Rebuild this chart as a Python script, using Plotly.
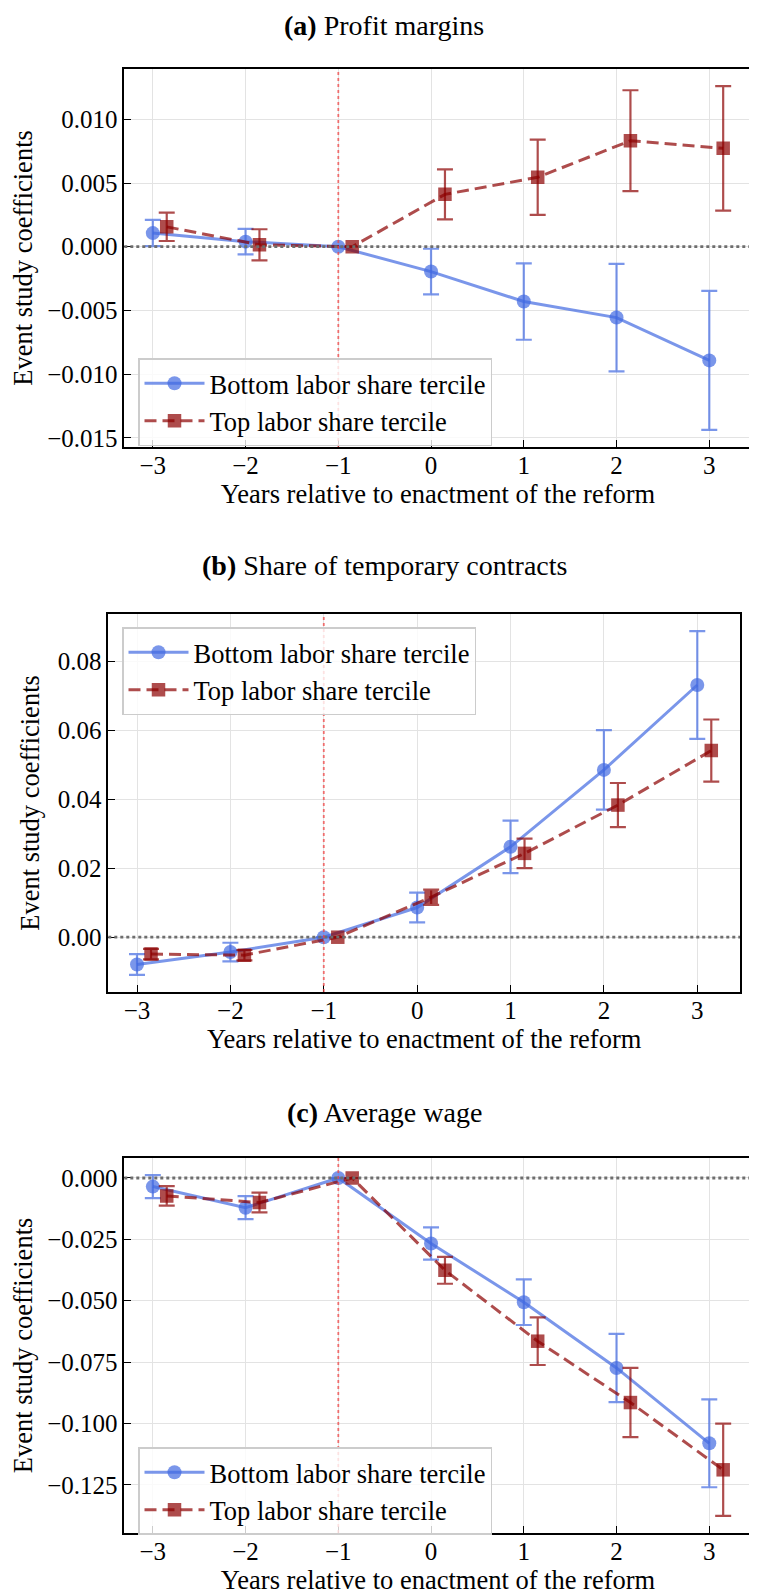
import plotly.graph_objects as go

# ---------------- data ----------------
years = [-3, -2, -1, 0, 1, 2, 3]
offset_top = 0.15

a_bottom_coef = [0.00107, 0.00040, 0.0, -0.00195, -0.00430, -0.00556, -0.00892]
a_bottom_err = [0.00103, 0.00100, 0.0, 0.00179, 0.00300, 0.00422, 0.00545]
a_top_coef = [0.00156, 0.00015, 0.0, 0.00411, 0.00545, 0.00832, 0.00772]
a_top_err = [0.00111, 0.00122, 0.0, 0.00196, 0.00295, 0.00396, 0.00488]

b_bottom_coef = [-0.0079, -0.0043, 0.0, 0.0086, 0.0262, 0.0485, 0.0731]
b_bottom_err = [0.0030, 0.0027, 0.0, 0.0043, 0.0076, 0.0115, 0.0156]
b_top_coef = [-0.0049, -0.0052, 0.0, 0.0116, 0.0243, 0.0383, 0.0541]
b_top_err = [0.0015, 0.0015, 0.0, 0.0022, 0.0043, 0.0064, 0.0090]

c_bottom_coef = [-0.0035, -0.0121, 0.0, -0.0267, -0.0506, -0.0774, -0.1081]
c_bottom_err = [0.0047, 0.0047, 0.0, 0.0066, 0.0093, 0.0139, 0.0179]
c_top_coef = [-0.0073, -0.0100, 0.0, -0.0376, -0.0665, -0.0915, -0.1189]
c_top_err = [0.0040, 0.0040, 0.0, 0.0055, 0.0097, 0.0141, 0.0188]

titles = ["<b>(a)</b> Profit margins", "<b>(b)</b> Share of temporary contracts", "<b>(c)</b> Average wage"]
series_names = ["Bottom labor share tercile", "Top labor share tercile"]
x_title = "Years relative to enactment of the reform"
y_title = "Event study coefficients"
a_ticks = [-0.015, -0.010, -0.005, 0.0, 0.005, 0.010]
b_ticks = [0.0, 0.02, 0.04, 0.06, 0.08]
c_ticks = [-0.125, -0.100, -0.075, -0.050, -0.025, 0.0]
x_ticks = [-3, -2, -1, 0, 1, 2, 3]
reform_year = -1

# ---------------- style ----------------
PAGE_W, PAGE_H = 757, 1596
OFF = 8  # default page body margin
W, H = PAGE_W - OFF, PAGE_H - OFF
BLUE = "rgba(65,105,225,0.7)"
RED = "rgba(139,0,0,0.7)"
FONT = "Liberation Serif"
TICK_SIZE = 25
LABEL_SIZE = 26.5
TITLE_SIZE = 28

# pixel boxes of each panel in page coordinates: (left, right, top, bottom)
boxes = [(124.3, 751.7, 69, 447), (108.3, 740, 614, 992), (124.3, 751.7, 1158, 1533)]
title_y = [8, 565, 1112]
title_anchor = ["top", "middle", "middle"]
title_x = 384
legend_pos = [(138, 358), (122, 627), (138, 1447)]


def px(v):
    return (v - OFF) / W


def py(v):
    return 1 - (v - OFF) / H


panels = [
    (a_bottom_coef, a_bottom_err, a_top_coef, a_top_err, a_ticks, ".3f"),
    (b_bottom_coef, b_bottom_err, b_top_coef, b_top_err, b_ticks, ".2f"),
    (c_bottom_coef, c_bottom_err, c_top_coef, c_top_err, c_ticks, ".3f"),
]

x_top = [y + offset_top for y in years]
xmin, xmax = min(years), max(x_top)
xpad = 0.05 * (xmax - xmin)
x_range = [xmin - xpad, xmax + xpad]

fig = go.Figure()
layout = dict(
    width=W, height=H,
    margin=dict(l=0, r=0, t=0, b=0, autoexpand=False),
    paper_bgcolor="white", plot_bgcolor="white",
    font=dict(family=FONT, size=TICK_SIZE, color="black"),
    annotations=[], shapes=[],
)

for i, (bc, be, tc, te, yt, fmt) in enumerate(panels):
    n = "" if i == 0 else str(i + 1)
    xa, ya = "x" + n, "y" + n
    leg = "legend" + n
    lo = min(min(c - e for c, e in zip(bc, be)), min(c - e for c, e in zip(tc, te)))
    hi = max(max(c + e for c, e in zip(bc, be)), max(c + e for c, e in zip(tc, te)))
    ypad = 0.05 * (hi - lo)
    y_range = [lo - ypad, hi + ypad]

    fig.add_trace(go.Scatter(
        x=years, y=bc, mode="lines+markers", name=series_names[0],
        xaxis=xa, yaxis=ya, legend=leg,
        line=dict(color=BLUE, width=3),
        marker=dict(symbol="circle", size=14, color=BLUE),
        error_y=dict(type="data", array=be, visible=True, color=BLUE, thickness=2.2, width=8),
    ))
    fig.add_trace(go.Scatter(
        x=x_top, y=tc, mode="lines+markers", name=series_names[1],
        xaxis=xa, yaxis=ya, legend=leg,
        line=dict(color=RED, width=3, dash="12px,6px"),
        marker=dict(symbol="square", size=13.5, color=RED),
        error_y=dict(type="data", array=te, visible=True, color=RED, thickness=2.2, width=8),
    ))

    l, r, t, b = boxes[i]
    common = dict(
        showline=True, linecolor="black", linewidth=1.6, mirror=True,
        ticks="inside", ticklen=7, tickwidth=1.2, tickcolor="black",
        showgrid=True, gridcolor="#e3e3e3", gridwidth=1.2, zeroline=False,
        tickfont=dict(family=FONT, size=TICK_SIZE), automargin=False,
    )
    layout["xaxis" + n] = dict(
        common, domain=[px(l), px(r)], anchor=ya, range=x_range,
        tickvals=x_ticks, tickformat="d", ticklabelstandoff=-5,
        title=dict(text=x_title, font=dict(family=FONT, size=LABEL_SIZE), standoff=6),
    )
    layout["yaxis" + n] = dict(
        common, domain=[py(b), py(t)], anchor=xa, range=y_range,
        tickvals=yt, tickformat=fmt,
        title=dict(text=y_title, font=dict(family=FONT, size=LABEL_SIZE), standoff=10),
    )
    lx, ly = legend_pos[i]
    layout[leg] = dict(
        x=px(lx), y=py(ly), xanchor="left", yanchor="top",
        bgcolor="rgba(255,255,255,0.8)", bordercolor="#cccccc", borderwidth=1.5,
        font=dict(family=FONT, size=LABEL_SIZE), tracegroupgap=0, itemwidth=60,
    )
    layout["annotations"].append(dict(
        text=titles[i], x=px(title_x), y=py(title_y[i]), xref="paper", yref="paper",
        xanchor="center", yanchor=title_anchor[i], showarrow=False,
        font=dict(family=FONT, size=TITLE_SIZE),
    ))
    layout["shapes"].append(dict(
        type="line", xref=xa + " domain", yref=ya, x0=0, x1=1, y0=0, y1=0,
        line=dict(color="#6e6e6e", width=2.8, dash="dot"), layer="above",
    ))
    layout["shapes"].append(dict(
        type="line", xref=xa, yref=ya + " domain", x0=reform_year, x1=reform_year, y0=0, y1=1,
        line=dict(color="rgba(240,70,70,0.75)", width=1.8, dash="dot"), layer="above",
    ))

fig.update_layout(**layout)
fig.write_html("out.html")
